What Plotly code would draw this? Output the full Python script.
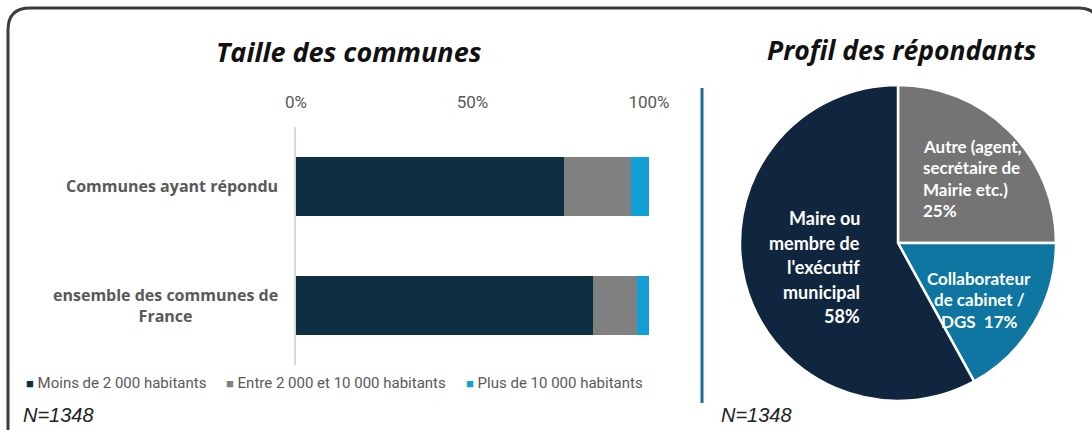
import plotly.graph_objects as go

# --- data -------------------------------------------------------------
categories = ["Communes ayant répondu", "ensemble des communes de<br>France"]
size_classes = ["Moins de 2 000 habitants", "Entre 2 000 et 10 000 habitants", "Plus de 10 000 habitants"]
share_small = [0.76, 0.84]
share_medium = [0.19, 0.125]
share_large = [0.05, 0.035]

profile_labels = ["Autre (agent,<br>secrétaire de<br>Mairie etc.)", "Collaborateur<br>de cabinet /<br>DGS", "Maire ou<br>membre de<br>l'exécutif<br>municipal"]
profile_values = [25, 17, 58]

x_ticks = [0, 0.5, 1]

# --- styling ----------------------------------------------------------
W, H = 1092, 430
bar_colors = ["#0E2F42", "#808080", "#12A0D7"]
pie_colors = ["#747474", "#0E76A0", "#10263F"]
label_grey = "#595959"


def px(x):
    return x / W


def py(y):
    return 1 - y / H


fig = go.Figure()

for name, vals, col in zip(size_classes, [share_small, share_medium, share_large], bar_colors):
    fig.add_trace(go.Bar(
        y=categories, x=vals, name=name, orientation="h",
        marker=dict(color=col, line=dict(width=0)), width=0.5,
        hoverinfo="x+name", showlegend=False,
    ))

fig.add_trace(go.Pie(
    labels=profile_labels, values=profile_values, sort=False,
    direction="clockwise", rotation=0,
    marker=dict(colors=pie_colors, line=dict(color="white", width=2.5)),
    textinfo="none", showlegend=False,
    domain=dict(x=[px(740), px(1056)], y=[py(401), py(85)]),
))

annotations = []

# category labels of the bar chart
cat_y = [186, 305]
for cat, yy in zip(categories, cat_y):
    annotations.append(dict(
        x=px(280), y=py(yy), xref="paper", yref="paper", text=f"<b>{cat}</b>",
        showarrow=False, xanchor="right", yanchor="middle", align="center",
        font=dict(family="Open Sans", size=16, color=label_grey),
    ))

# legend drawn as coloured squares followed by the class name
legend_x = [24, 224, 464]
for name, col, lx in zip(size_classes, bar_colors, legend_x):
    annotations.append(dict(
        x=px(lx), y=py(383), xref="paper", yref="paper", showarrow=False,
        xanchor="left", yanchor="middle",
        text=f"<span style='color:{col}; font-size:13px'>■</span> {name}",
        font=dict(family="Roboto", size=15, color=label_grey),
    ))

# pie slice labels, one annotation per line for control of line spacing
pie_text_pos = [
    dict(x=921, y0=146, dy=21.5, xanchor="left", size=17),
    dict(x=979, y0=278, dy=21.5, xanchor="center", size=17),
    dict(x=862, y0=218, dy=24.5, xanchor="right", size=18),
]
for lab, val, pos in zip(profile_labels, profile_values, pie_text_pos):
    lines = lab.split("<br>")
    if lines[-1] == "DGS":
        lines[-1] = f"DGS  {val}%"
    else:
        lines.append(f"{val}%")
    for i, line in enumerate(lines):
        annotations.append(dict(
            x=px(pos["x"]), y=py(pos["y0"] + i * pos["dy"]),
            xref="paper", yref="paper", text=f"<b>{line}</b>",
            showarrow=False, xanchor=pos["xanchor"], yanchor="middle",
            font=dict(family="Lato", size=pos["size"], color="white"),
        ))

# titles and sample sizes
annotations += [
    dict(x=px(349), y=py(52), xref="paper", yref="paper", showarrow=False,
         xanchor="center", yanchor="middle",
         text="<b><i>Taille des communes</i></b>",
         font=dict(family="Open Sans", size=27, color="#111111")),
    dict(x=px(902), y=py(50), xref="paper", yref="paper", showarrow=False,
         xanchor="center", yanchor="middle",
         text="<b><i>Profil des répondants</i></b>",
         font=dict(family="Open Sans", size=26.5, color="#111111")),
    dict(x=px(21), y=py(415), xref="paper", yref="paper", showarrow=False,
         xanchor="left", yanchor="middle", text="<i>N=1348</i>",
         font=dict(family="Liberation Sans", size=20, color="#222222")),
    dict(x=px(719), y=py(415), xref="paper", yref="paper", showarrow=False,
         xanchor="left", yanchor="middle", text="<i>N=1348</i>",
         font=dict(family="Liberation Sans", size=20, color="#222222")),
]

r = 22
x0, y0, x1, y1 = 8, 8, 1100, 438
frame_path = (
    f"M {px(x0)},{py(y1)} L {px(x0)},{py(y0 + r)} "
    f"Q {px(x0)},{py(y0)} {px(x0 + r)},{py(y0)} "
    f"L {px(x1 - r)},{py(y0)} Q {px(x1)},{py(y0)} {px(x1)},{py(y0 + r)} "
    f"L {px(x1)},{py(y1)}"
)

shapes = [
    dict(type="path", xref="paper", yref="paper", path=frame_path,
         line=dict(color="#3C3C3C", width=3)),
    dict(type="line", xref="paper", yref="paper",
         x0=px(702), x1=px(702), y0=py(88), y1=py(403),
         line=dict(color="#1F6E99", width=3)),
]

fig.update_layout(
    width=W, height=H,
    margin=dict(l=0, r=0, t=0, b=0, pad=0, autoexpand=False),
    paper_bgcolor="white", plot_bgcolor="white",
    barmode="stack",
    xaxis=dict(
        domain=[px(296), px(649)], range=[0, 1], side="top",
        tickvals=x_ticks, tickformat=".0%",
        showgrid=False, zeroline=False, showline=False,
        ticklabelstandoff=15, automargin=False,
        tickfont=dict(family="Roboto", size=17, color=label_grey),
        fixedrange=True,
    ),
    yaxis=dict(
        domain=[py(365), py(127)], autorange="reversed",
        showticklabels=False, showgrid=False, zeroline=False,
        showline=True, linecolor="#D9D9D9", linewidth=1.5,
        ticks="", fixedrange=True, automargin=False,
    ),
    annotations=annotations,
    shapes=shapes,
    showlegend=False,
)

fig.write_html(
    "out.html",
    config={"displayModeBar": False, "responsive": False},
    post_script="document.body.style.margin='0';document.body.style.overflow='hidden';",
)
